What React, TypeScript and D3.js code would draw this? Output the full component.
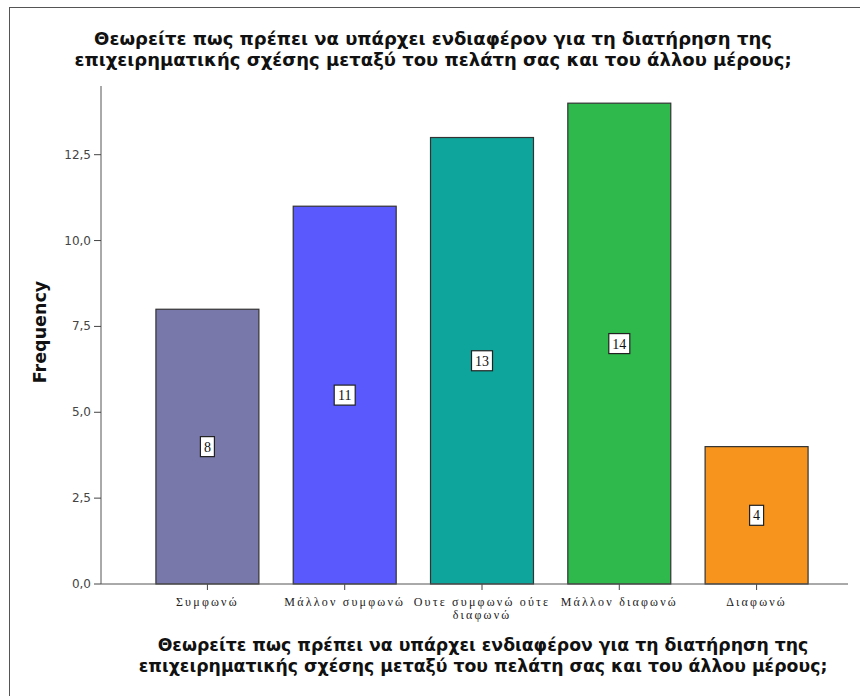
import React from "react";
import * as d3 from "d3";

const categories = ["Συμφωνώ", "Μάλλον συμφωνώ", "Ουτε συμφωνώ ούτε διαφωνώ", "Μάλλον διαφωνώ", "Διαφωνώ"];
const categoryLines = [["Συμφωνώ"], ["Μάλλον συμφωνώ"], ["Ουτε συμφωνώ ούτε", "διαφωνώ"], ["Μάλλον διαφωνώ"], ["Διαφωνώ"]];
const frequencies = [8, 11, 13, 14, 4];
const barColors = ["#7878aa", "#5959fd", "#0ea69c", "#2fb84c", "#f7941e"];
const yTicks = [0, 2.5, 5, 7.5, 10, 12.5];
const titleLines = [
  "Θεωρείτε πως πρέπει να υπάρχει ενδιαφέρον για τη διατήρηση της",
  "επιχειρηματικής σχέσης μεταξύ του πελάτη σας και του άλλου μέρους;",
];
const yTitle = "Frequency";

export default function App() {
  const W = 860, H = 696;
  const axisX = 101, baseY = 584, topY = 86, rightX = 848;
  const y = d3.scaleLinear().domain([0, 14.5]).range([baseY, topY]);
  const x = d3.scaleBand<string>().domain(categories).range([121.6, 842.4]).paddingInner(0.25).paddingOuter(0.25);
  const fmt = (v: number) => d3.format(".1f")(v).replace(".", ",");
  const sans = "'DejaVu Sans', Verdana, sans-serif";
  const serif = "'Liberation Serif', 'Times New Roman', serif";
  return (
    <svg width={W} height={H} style={{ position: "absolute", left: 0, top: 0, background: "#fff" }}>
      <rect x={9.5} y={7.5} width={W} height={H} fill="#fff" stroke="#555" strokeWidth={1} />
      {titleLines.map((t, i) => (
        <text key={i} x={433} y={45 + i * 21} textAnchor="middle" fontFamily={sans} fontWeight="bold" fontSize={18} fill="#111">{t}</text>
      ))}
      {categories.map((c, i) => {
        const bx = x(c)!;
        const by = y(frequencies[i]);
        const cx = bx + x.bandwidth() / 2;
        const my = (by + baseY) / 2;
        const bw = 7 + 7 * String(frequencies[i]).length;
        return (
          <g key={c}>
            <rect x={bx} y={by} width={x.bandwidth()} height={baseY - by} fill={barColors[i]} stroke="#333" strokeWidth={1.2} />
            <rect x={cx - bw / 2} y={my - 10} width={bw} height={20} fill="#fff" stroke="#222" strokeWidth={1.2} />
            <text x={cx} y={my + 5} textAnchor="middle" fontFamily={serif} fontSize={14} fill="#111">{frequencies[i]}</text>
            <line x1={cx} x2={cx} y1={baseY} y2={baseY + 6} stroke="#444" />
            {categoryLines[i].map((l, j) => (
              <text key={j} x={cx} y={baseY + 22 + j * 13} textAnchor="middle" fontFamily={serif} fontSize={12} letterSpacing={2.2} fill="#222">{l}</text>
            ))}
          </g>
        );
      })}
      <line x1={axisX} x2={axisX} y1={topY} y2={baseY} stroke="#555" />
      <line x1={axisX} x2={rightX} y1={baseY} y2={baseY} stroke="#555" />
      {yTicks.map((t) => (
        <g key={t}>
          <line x1={axisX - 7} x2={axisX} y1={y(t)} y2={y(t)} stroke="#444" />
          <text x={axisX - 10} y={y(t) + 4} textAnchor="end" fontFamily={sans} fontSize={12} fill="#444">{fmt(t)}</text>
        </g>
      ))}
      <text transform={`translate(46,${(topY + baseY) / 2 - 3}) rotate(-90)`} textAnchor="middle" fontFamily={sans} fontWeight="bold" fontSize={17.5} fill="#111">{yTitle}</text>
      {titleLines.map((t, i) => (
        <text key={i} x={483} y={651 + i * 21} textAnchor="middle" fontFamily={sans} fontWeight="bold" fontSize={17.3} fill="#111">{t}</text>
      ))}
    </svg>
  );
}
